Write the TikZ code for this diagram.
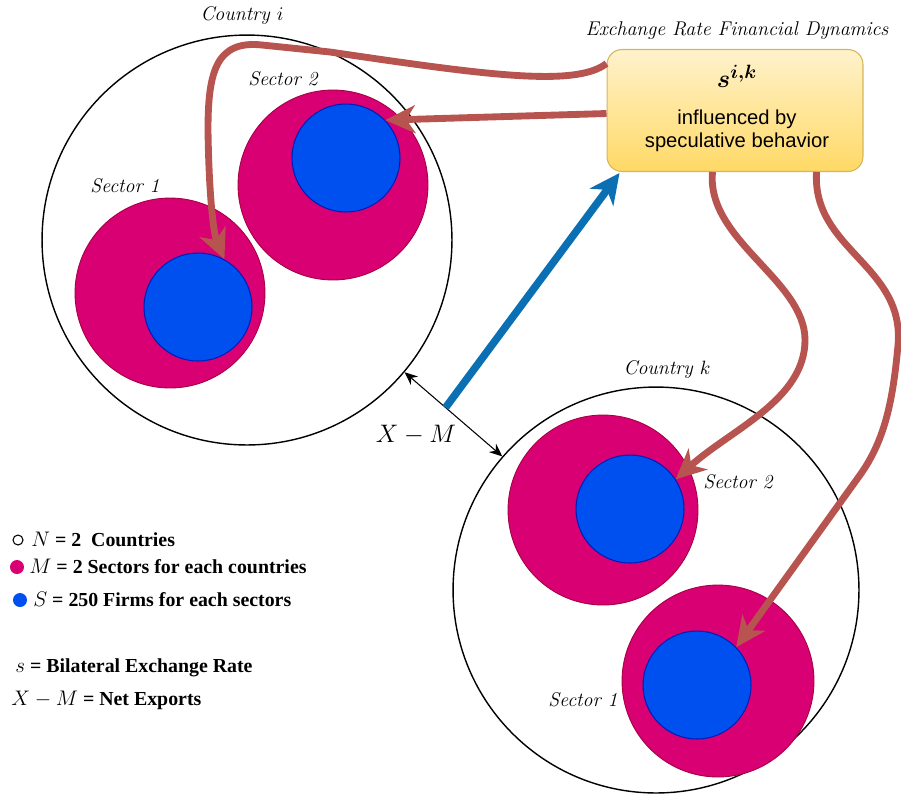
\documentclass[tikz,border=0pt]{standalone}
\usepackage{fontspec}
\usepackage{bm}
\newfontfamily\sansf{Liberation Sans}
\newfontfamily\legf{Liberation Serif}
\usetikzlibrary{arrows.meta,calc}
\definecolor{mag}{HTML}{D80073}
\definecolor{magline}{HTML}{A50040}
\definecolor{firmblue}{HTML}{0050EF}
\definecolor{firmline}{HTML}{001DBC}
\definecolor{redarr}{HTML}{B85450}
\definecolor{bluearr}{HTML}{0B6FB4}
\definecolor{boxtop}{HTML}{FFF2CC}
\definecolor{boxbot}{HTML}{FFD966}
\definecolor{boxline}{HTML}{D6B656}
\newcommand\legm[1]{{\fontsize{13}{15}\selectfont$#1$}}
\tikzset{
  country/.style={circle, draw=black, line width=0.8pt, inner sep=0pt},
  sectorc/.style={circle, fill=mag, draw=magline, line width=0.5pt, inner sep=0pt, minimum size=3.8cm},
  firmc/.style={circle, fill=firmblue, draw=firmline, line width=0.6pt, inner sep=0pt, minimum size=2.16cm},
  lab/.style={inner sep=0pt, font=\fontsize{11.3}{13}\selectfont\itshape},
  redarrow/.style={draw=redarr, line width=3.9pt, -{Stealth[length=6mm, width=5.6mm, inset=1.8mm]}},
  bluearrow/.style={draw=bluearr, line width=4.3pt, -{Stealth[length=6mm, width=5.8mm, inset=1.8mm]}},
  netarrow/.style={draw=black, line width=0.6pt, {Stealth[length=2.6mm,width=2.2mm]}-{Stealth[length=2.6mm,width=2.2mm]}},
  legdot/.style={circle, inner sep=0pt, minimum size=0.28cm},
  legtext/.style={anchor=base west, inner sep=0pt, font=\legf\bfseries\fontsize{11.3}{14}\selectfont},
  fin/.style={rounded corners=0.3cm, top color=boxtop, bottom color=boxbot, draw=boxline, line width=0.6pt, minimum width=5.12cm, minimum height=2.44cm}
}
\begin{document}
\begin{tikzpicture}[x=0.02cm,y=-0.02cm]
\useasboundingbox (0,0) rectangle (901,796);
% countries
\node[country, minimum size=8.2cm] (ci) at (247,240) {};
\node[country, minimum size=8.12cm] (ck) at (656,590) {};
% sectors and firms
\node[sectorc] (s1i) at (170,293) {};
\node[firmc] (b1i) at (198,307) {};
\node[sectorc] (s2i) at (333,185) {};
\node[firmc] (b2i) at (346,158) {};
\node[sectorc] (s2k) at (603,510) {};
\node[firmc] (b2k) at (630,509) {};
\node[sectorc, minimum size=3.84cm] (s1k) at (718,681) {};
\node[firmc] (b1k) at (697,685) {};
% labels
\node[lab] (lci) at (242,16) {Country $i$};
\node[lab] (lck) at (667,370) {Country $k$};
\node[lab] (ls2i) at (283,79) {Sector 2};
\node[lab] (ls1i) at (125,186) {Sector 1};
\node[lab] (ls2k) at (738,482) {Sector 2};
\node[lab] (ls1k) at (583,700) {Sector 1};
\node[lab] (title) at (737,31) {Exchange Rate Financial Dynamics};
% financial box
\node[fin] (box) at (735,110.5) {};
\node[inner sep=0pt, font=\fontsize{15}{17}\selectfont] (sik) at (737,76) {$\bm{s^{i,k}}$};
\node[inner sep=0pt, align=center, font=\sansf\fontsize{11.5}{13.2}\selectfont] (infl) at (737,131) {influenced by\\speculative behavior};
% net exports
\node[inner sep=0pt, font=\fontsize{14.5}{16}\selectfont] (xm) at (416,435) {$X-M$};
\draw[netarrow] (ci.-40) -- (ck.139);
\coordinate (bstart) at ($(ci.-40)!0.42!(ck.139)$);
\draw[bluearrow] (bstart) -- ($(box.south west)+(13,1)$);
% red arrows
\draw[redarrow] ($(box.west)+(0,-47)$) .. controls (575,88) and (480,74) .. (330,52)
   -- (262,45) .. controls (216,40) and (208,72) .. (208,130)
   .. controls (209,200) and (214,235) .. (b1i.61);
\draw[redarrow] ($(box.west)+(0,3)$) -- (b2i.44);
\draw[redarrow] ($(box.south west)+(106,0)$) .. controls (706,240) and (805,280) .. (805,340)
   .. controls (805,400) and (730,430) .. (b2k.33);
\draw[redarrow] ($(box.south west)+(210,0)$) .. controls (812,250) and (905,265) .. (898,345)
   .. controls (893,400) and (885,440) .. (860,475) -- (b1k.44);
% legend
\node[legdot, draw=black, line width=0.6pt, minimum size=0.2cm] (d1) at (18,540) {};
\node[legdot, fill=mag] (d2) at (17,567) {};
\node[legdot, fill=firmblue] (d3) at (20,600) {};
\node[legtext] (t1) at (31,546) {\legm{N} = 2\ \ Countries};
\node[legtext] (t2) at (29,573) {\legm{M} = 2 Sectors for each countries};
\node[legtext] (t3) at (33,606) {\legm{S} = 250 Firms for each sectors};
\node[legtext] (t4) at (15,672) {\legm{s} = Bilateral Exchange Rate};
\node[legtext] (t5) at (11,705) {\legm{X-M} = Net Exports};
\end{tikzpicture}
\end{document}
